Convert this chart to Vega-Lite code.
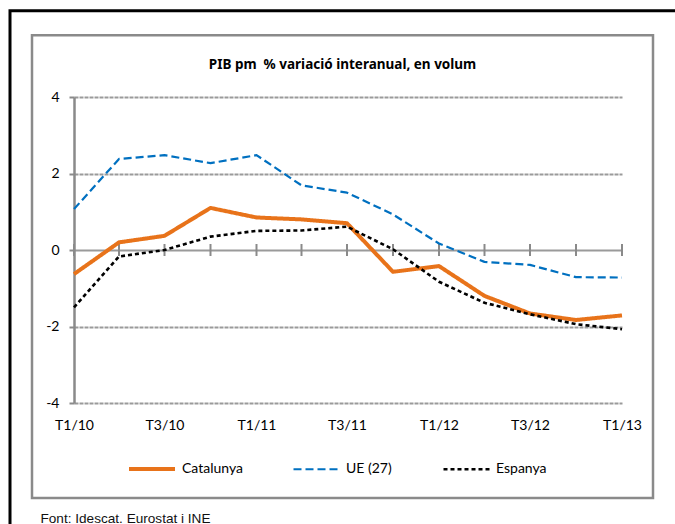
{
  "$schema": "https://vega.github.io/schema/vega-lite/v6.json",
  "width": 548,
  "height": 306,
  "autosize": {"type": "none"},
  "padding": {"left": 74, "top": 97, "right": 53, "bottom": 121},
  "background": "white",
  "config": {"view": {"stroke": null}, "font": "Lato"},
  "datasets": {
    "gdp": [
      {"trimestre": "2010-01-01", "serie": "Catalunya", "valor": -0.63},
      {"trimestre": "2010-04-01", "serie": "Catalunya", "valor": 0.2},
      {"trimestre": "2010-07-01", "serie": "Catalunya", "valor": 0.37},
      {"trimestre": "2010-10-01", "serie": "Catalunya", "valor": 1.1},
      {"trimestre": "2011-01-01", "serie": "Catalunya", "valor": 0.85},
      {"trimestre": "2011-04-01", "serie": "Catalunya", "valor": 0.8},
      {"trimestre": "2011-07-01", "serie": "Catalunya", "valor": 0.7},
      {"trimestre": "2011-10-01", "serie": "Catalunya", "valor": -0.57},
      {"trimestre": "2012-01-01", "serie": "Catalunya", "valor": -0.42},
      {"trimestre": "2012-04-01", "serie": "Catalunya", "valor": -1.2},
      {"trimestre": "2012-07-01", "serie": "Catalunya", "valor": -1.66},
      {"trimestre": "2012-10-01", "serie": "Catalunya", "valor": -1.83},
      {"trimestre": "2013-01-01", "serie": "Catalunya", "valor": -1.71},
      {"trimestre": "2010-01-01", "serie": "UE (27)", "valor": 1.07},
      {"trimestre": "2010-04-01", "serie": "UE (27)", "valor": 2.38},
      {"trimestre": "2010-07-01", "serie": "UE (27)", "valor": 2.48},
      {"trimestre": "2010-10-01", "serie": "UE (27)", "valor": 2.27},
      {"trimestre": "2011-01-01", "serie": "UE (27)", "valor": 2.48},
      {"trimestre": "2011-04-01", "serie": "UE (27)", "valor": 1.69},
      {"trimestre": "2011-07-01", "serie": "UE (27)", "valor": 1.5},
      {"trimestre": "2011-10-01", "serie": "UE (27)", "valor": 0.93},
      {"trimestre": "2012-01-01", "serie": "UE (27)", "valor": 0.17},
      {"trimestre": "2012-04-01", "serie": "UE (27)", "valor": -0.31},
      {"trimestre": "2012-07-01", "serie": "UE (27)", "valor": -0.39},
      {"trimestre": "2012-10-01", "serie": "UE (27)", "valor": -0.71},
      {"trimestre": "2013-01-01", "serie": "UE (27)", "valor": -0.72},
      {"trimestre": "2010-01-01", "serie": "Espanya", "valor": -1.5},
      {"trimestre": "2010-04-01", "serie": "Espanya", "valor": -0.17},
      {"trimestre": "2010-07-01", "serie": "Espanya", "valor": 0.0},
      {"trimestre": "2010-10-01", "serie": "Espanya", "valor": 0.35},
      {"trimestre": "2011-01-01", "serie": "Espanya", "valor": 0.5},
      {"trimestre": "2011-04-01", "serie": "Espanya", "valor": 0.51},
      {"trimestre": "2011-07-01", "serie": "Espanya", "valor": 0.61},
      {"trimestre": "2011-10-01", "serie": "Espanya", "valor": 0.02},
      {"trimestre": "2012-01-01", "serie": "Espanya", "valor": -0.83},
      {"trimestre": "2012-04-01", "serie": "Espanya", "valor": -1.38},
      {"trimestre": "2012-07-01", "serie": "Espanya", "valor": -1.68},
      {"trimestre": "2012-10-01", "serie": "Espanya", "valor": -1.94},
      {"trimestre": "2013-01-01", "serie": "Espanya", "valor": -2.07}
    ]
  },
  "layer": [
    {
      "data": {"values": [{}]},
      "mark": {"type": "rect", "fill": "transparent", "stroke": "#000000", "strokeWidth": 3},
      "encoding": {
        "x": {"datum": {"year": 2009, "month": 8, "date": 26, "utc": true}, "type": "temporal",
              "scale": {"type": "utc", "domain": [{"year": 2010, "month": 1, "date": 1, "utc": true}, {"year": 2013, "month": 1, "date": 1, "utc": true}], "nice": false}},
        "x2": {"datum": {"year": 2013, "month": 9, "date": 1, "utc": true}},
        "y": {"datum": 6.256, "type": "quantitative", "scale": {"domain": [-4, 4], "nice": false, "zero": false}},
        "y2": {"datum": -9}
      }
    },
    {
      "data": {"values": [{}]},
      "mark": {"type": "rect", "fill": "transparent", "stroke": "#8a8a8a", "strokeWidth": 2.5},
      "encoding": {
        "x": {"datum": {"year": 2009, "month": 10, "date": 9, "utc": true}, "type": "temporal",
              "scale": {"type": "utc", "domain": [{"year": 2010, "month": 1, "date": 1, "utc": true}, {"year": 2013, "month": 1, "date": 1, "utc": true}], "nice": false}},
        "x2": {"datum": {"year": 2013, "month": 3, "date": 4, "utc": true}},
        "y": {"datum": 5.613, "type": "quantitative", "scale": {"domain": [-4, 4], "nice": false, "zero": false}},
        "y2": {"datum": -6.484}
      }
    },
    {
      "data": {"name": "gdp"},
      "transform": [{"filter": "datum.serie === 'Catalunya'"}],
      "mark": {"type": "tick", "orient": "vertical", "size": 12, "thickness": 2, "color": "#8a8a8a", "opacity": 1},
      "encoding": {
        "x": {"field": "trimestre", "type": "temporal",
              "scale": {"type": "utc", "domain": [{"year": 2010, "month": 1, "date": 1, "utc": true}, {"year": 2013, "month": 1, "date": 1, "utc": true}], "nice": false}},
        "y": {"datum": 0, "type": "quantitative", "scale": {"domain": [-4, 4], "nice": false, "zero": false}}
      }
    },
    {
      "data": {"name": "gdp"},
      "mark": {"type": "line", "strokeJoin": "round", "strokeCap": "butt"},
      "encoding": {
        "x": {"field": "trimestre", "type": "temporal",
              "scale": {"type": "utc", "domain": [{"year": 2010, "month": 1, "date": 1, "utc": true}, {"year": 2013, "month": 1, "date": 1, "utc": true}], "nice": false},
              "axis": {
                "orient": "bottom",
                "domain": false,
                "ticks": false,
                "grid": false,
                "tickCount": {"interval": "month", "step": 6},
                "labelExpr": "'T' + (floor(utcmonth(datum.value) / 3) + 1) + '/' + utcFormat(datum.value, '%y')",
                "labelFlush": false,
                "labelOverlap": false,
                "labelFont": "Lato",
                "labelFontSize": 14,
                "labelColor": "#000000",
                "labelPadding": 15,
                "title": "Font: Idescat. Eurostat i INE",
                "titleFont": "Liberation Sans",
                "titleFontSize": 13.6,
                "titleFontWeight": "normal",
                "titleColor": "#111111",
                "titleAlign": "left",
                "titleAnchor": "start",
                "titleBaseline": "alphabetic",
                "titleX": -34,
                "titleY": 119
              }},
        "y": {"field": "valor", "type": "quantitative",
              "scale": {"domain": [-4, 4], "nice": false, "zero": false},
              "axis": {
                "values": [-4, -2, 0, 2, 4],
                "labelExpr": "'' + datum.value",
                "grid": true,
                "gridColor": "#9a9a9a",
                "gridWidth": 2,
                "gridDash": {"condition": {"test": "datum.value === 0", "value": []}, "value": [4, 1]},
                "domainColor": "#8a8a8a",
                "domainWidth": 2.5,
                "tickColor": "#8a8a8a",
                "tickWidth": 2,
                "tickSize": 5,
                "labelPadding": 10,
                "labelFont": "Lato",
                "labelFontSize": 14,
                "labelColor": "#000000",
                "title": "PIB pm\u00a0 % variació interanual, en volum",
                "titleFont": "Noto Sans",
                "titleFontSize": 13.5,
                "titleFontWeight": "bold",
                "titleColor": "#000000",
                "titleAngle": 0,
                "titleAlign": "center",
                "titleAnchor": "middle",
                "titleBaseline": "alphabetic",
                "titleX": 268,
                "titleY": -29
              }},
        "color": {"field": "serie", "type": "nominal",
                  "scale": {"domain": ["Catalunya", "UE (27)", "Espanya"], "range": ["#E8731A", "#0070C0", "#000000"]},
                  "legend": {
                    "title": null,
                    "orient": "none",
                    "legendX": 53,
                    "legendY": 347,
                    "direction": "horizontal",
                    "symbolType": "stroke",
                    "symbolSize": 2116,
                    "labelFont": "Lato",
                    "labelFontSize": 14,
                    "labelColor": "#000000",
                    "labelOffset": 5,
                    "columnPadding": 46,
                    "padding": 0
                  }},
        "strokeDash": {"field": "serie", "type": "nominal",
                       "scale": {"domain": ["Catalunya", "UE (27)", "Espanya"], "range": [[1, 0], [8, 4], [4, 3]]},
                       "legend": {
                    "title": null,
                    "orient": "none",
                    "legendX": 53,
                    "legendY": 347,
                    "direction": "horizontal",
                    "symbolType": "stroke",
                    "symbolSize": 2116,
                    "labelFont": "Lato",
                    "labelFontSize": 14,
                    "labelColor": "#000000",
                    "labelOffset": 5,
                    "columnPadding": 46,
                    "padding": 0
                  }},
        "strokeWidth": {"field": "serie", "type": "nominal",
                        "scale": {"type": "ordinal", "domain": ["Catalunya", "UE (27)", "Espanya"], "range": [4, 2.2, 2.6]},
                        "legend": {
                    "title": null,
                    "orient": "none",
                    "legendX": 53,
                    "legendY": 347,
                    "direction": "horizontal",
                    "symbolType": "stroke",
                    "symbolSize": 2116,
                    "labelFont": "Lato",
                    "labelFontSize": 14,
                    "labelColor": "#000000",
                    "labelOffset": 5,
                    "columnPadding": 46,
                    "padding": 0
                  }}
      }
    }
  ]
}
